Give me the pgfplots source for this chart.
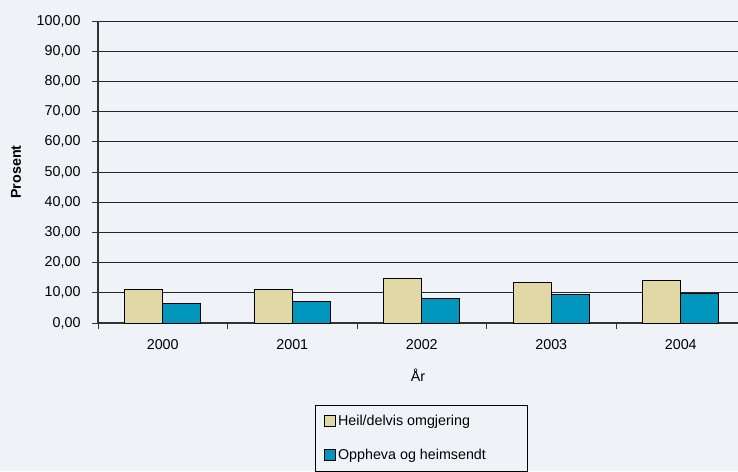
\documentclass[border=0pt]{standalone}
\usepackage{pgfplots}
\pgfplotsset{compat=1.18}
\usepackage{fontspec}
\setmainfont{Liberation Sans}
\definecolor{bg}{HTML}{EFF3F7}
\definecolor{beige}{HTML}{E2D8A6}
\definecolor{teal}{HTML}{0096BD}
\begin{document}
\begin{tikzpicture}[x=1pt,y=1pt]
\fill[bg] (0,0) rectangle (738,471);
\begin{axis}[
  at={(98pt,148pt)}, anchor=south west,
  scale only axis, width=640pt, height=302pt,
  font=\fontsize{14.3}{17}\selectfont,
  ymin=0, ymax=100, ytick={0,10,...,100},
  xmin=-0.5, xmax=4.442,
  xtick={0,1,2,3,4},
  xticklabels={2000,2001,2002,2003,2004},
  major x tick style={draw=none},
  extra x ticks={-0.5,0.5,1.5,2.5,3.5},
  extra x tick labels={},
  extra x tick style={major x tick style={draw=black!80,line width=0.8pt}},
  tick align=outside, major tick length=6pt,
  y tick style={black!80,line width=0.8pt},
  yticklabel style={xshift=-8pt},
  xticklabel style={yshift=-7pt},
  axis x line*=bottom, axis y line*=left,
  x axis line style={black!80,line width=1.8pt},
  y axis line style={black!80,line width=1.2pt},
  ymajorgrids, major grid style={black!85,line width=0.8pt},
  /pgf/number format/.cd, fixed, fixed zerofill, precision=2, use comma, 1000 sep={}, assume math mode=true,
  /pgfplots/.cd,
  ylabel={\bfseries Prosent},
  ylabel style={at={(axis description cs:-0.128,0.5)}, anchor=center},
  xlabel={År},
  xlabel style={at={(axis description cs:0.5,-0.172)}, anchor=center},
  ybar, ybar=0pt, bar width=38pt,
  legend style={at={(0.339,-0.2715)}, anchor=north west, draw=black, fill=bg,
    line width=0.6pt, row sep=18pt, inner ysep=8pt, inner xsep=9pt},
  legend cell align=left,
  legend image code/.code={\draw[#1,line width=0.8pt] (0pt,-5.5pt) rectangle (11pt,5.5pt);},
]
\addplot[fill=beige, draw=black, line width=1pt] coordinates {(0,11.2) (1,11.2) (2,14.6) (3,13.5) (4,14.0)};
\addlegendentry{\makebox[178pt][l]{Heil/delvis omgjering}}
\addplot[fill=teal, draw=black, line width=1pt] coordinates {(0,6.5) (1,7.0) (2,8.2) (3,9.4) (4,9.8)};
\addlegendentry{\makebox[178pt][l]{Oppheva og heimsendt}}
\end{axis}
\pgfresetboundingbox
\path (0,0) rectangle (738,471);
\end{tikzpicture}
\end{document}
